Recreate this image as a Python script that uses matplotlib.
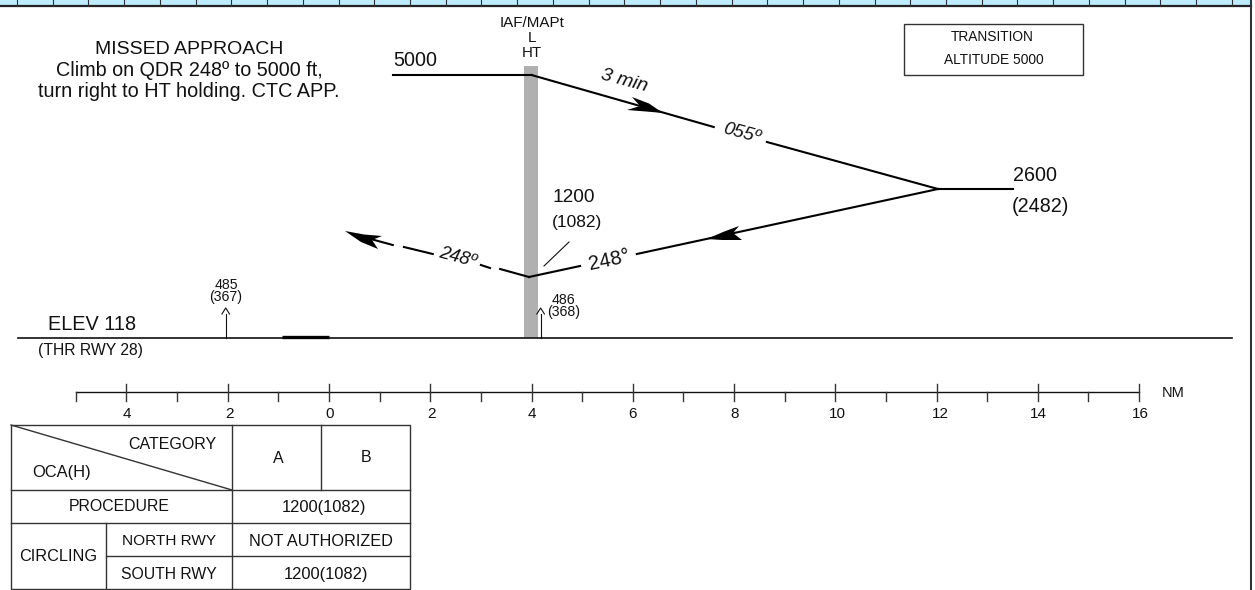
#!/usr/bin/env python3
import matplotlib
matplotlib.use("Agg")
import matplotlib.pyplot as plt
from matplotlib.patches import Polygon, Rectangle

plt.rcParams["font.family"] = ["Liberation Sans", "DejaVu Sans"]

W, H = 1255, 590
INK = "#111111"

# distances in NM from the threshold, heights as rows of the profile drawing
level_5000_x = [1.26, 4.0]
level_5000_y = [75, 75]
outbound_x = [[4.0, 7.6], [8.65, 12.03]]
outbound_y = [[75, 127], [142, 189]]
level_2600_x = [12.03, 13.52]
level_2600_y = [189, 189]
inbound_x = [[12.03, 6.08], [4.96, 3.95]]
inbound_y = [[189, 254], [266, 277]]
missed_x = [[3.95, 3.38], [3.18, 3.0], [2.05, 1.48], [1.26, 0.75]]
missed_y = [[277, 269], [268, 265], [254, 247], [245, 238]]

ground_x = [-6.14, 17.84]
ground_y = 338.3
runway_x = [-0.93, 0.0]
obstacle_x = [-2.04, 4.18]
obstacle_top = [308, 308]

scale_ticks = list(range(-5, 17))
scale_labels = ["4", "2", "0", "2", "4", "6", "8", "10", "12", "14", "16"]
scale_label_nm = [-4.0, -1.97, 0.02, 2.02, 4.0, 6.0, 8.02, 10.04, 12.08, 14.02, 16.02]

band_ticks = [17 + 35.73 * i for i in range(35)]

# table
col_x = [11, 106, 232, 321, 410]
row_y = [425, 490, 523, 556, 589]

fig = plt.figure(figsize=(W / 100, H / 100), dpi=100)
ax = fig.add_axes([0, 0, 1, 1])
ax.set_xlim(0, W)
ax.set_ylim(H, 0)
ax.axis("off")

# same rows, x in NM: 0 NM sits at 329 px, 50.625 px per NM
nm = fig.add_axes([0, 0, 1, 1])
nm.set_xlim(-329 / 50.625, (W - 329) / 50.625)
nm.set_ylim(H, 0)
nm.axis("off")
nm.patch.set_alpha(0)


def label(x, y, s, size, **kw):
    # centre anchor sits a little high for capitals and digits
    kw.setdefault("color", INK)
    return ax.text(x, y + 1, s, ha="center", va="center", fontsize=size, **kw)


# top band and right frame
ax.add_patch(Rectangle((0, 0), 1250, 5.5, fc="#BDEBFF", ec="none"))
ax.plot([0, 1251], [6, 6], color="#222222", lw=1.6)
ax.plot([1250.5, 1250.5], [0, H], color="#333333", lw=1.5)
for x in band_ticks:
    ax.plot([x, x], [0, 5.5], color="#333333", lw=0.8)

# fix bar, ground, runway
nm.add_patch(Rectangle((3.85, 66), 0.277, ground_y - 66, fc="#B0B0B0", ec="none"))
nm.plot(ground_x, [ground_y, ground_y], color=INK, lw=1.2)
nm.plot(runway_x, [336.5, 336.5], color="black", lw=2.4, solid_capstyle="butt")

# procedure track
nm.plot(level_5000_x, level_5000_y, color="black", lw=1.5)
nm.plot(level_2600_x, level_2600_y, color="black", lw=1.5)
for xs, ys in zip(outbound_x + inbound_x + missed_x, outbound_y + inbound_y + missed_y):
    nm.plot(xs, ys, color="black", lw=1.5)

# arrow heads, pixel outline
ax.add_patch(Polygon([(663, 113), (649, 103.5), (632, 97), (640, 106), (627, 110), (646, 111.5)],
                     fc="black", ec="none"))
ax.add_patch(Polygon([(707, 239), (723, 232), (739, 226), (733, 233), (742, 240), (722, 240)],
                     fc="black", ec="none"))
ax.add_patch(Polygon([(345, 231), (364, 234.5), (382, 236), (372, 240), (378, 249), (361, 242)],
                     fc="black", ec="none"))

# obstacles
for x, top in zip(obstacle_x, obstacle_top):
    nm.plot([x, x], [ground_y, top + 6], color=INK, lw=0.8)
    nm.plot([x - 0.075, x, x + 0.075], [top + 6, top, top + 6], color=INK, lw=0.8)
label(226, 290, "485\n(367)", 10.2, linespacing=0.85)
label(563.5, 305, "486\n(368)", 10.2, linespacing=0.85)

# leader to the 1200 label
ax.plot([544, 569], [266, 242], color=INK, lw=0.8)

# distance scale
nm.plot([scale_ticks[0], scale_ticks[-1]], [392, 392], color=INK, lw=1)
for t in scale_ticks:
    top = 384 if (t % 2 == 0) else 392
    nm.plot([t, t], [top, 401], color="#333333", lw=1)
for t, s in zip(scale_label_nm, scale_labels):
    nm.text(t, 413.5, s, ha="center", va="center", fontsize=11, color=INK)
label(1173, 392, "NM", 10.5)

# free text
label(189.5, 48.5, "MISSED APPROACH", 14)
label(189.5, 69.5, "Climb on QDR 248º to 5000 ft,", 14.2)
label(189, 90.5, "turn right to HT holding. CTC APP.", 14.3)
label(532, 22, "IAF/MAPt", 10.9)
label(532, 37, "L", 10.9)
label(532, 52, "HT", 10.9)
label(415.5, 59.5, "5000", 14.2)
label(1035, 174.5, "2600", 14.2)
label(1040, 205, "(2482)", 14.2)
label(573.5, 196.5, "1200", 13.7)
label(577, 221, "(1082)", 12.5)
label(92, 324, "ELEV 118", 14.3)
label(90.5, 350, "(THR RWY 28)", 11.3)

# rotated track labels
label(624, 80, "3 min", 14, style="italic", rotation=-15)
label(742, 133, "055º", 13.5, style="italic", rotation=-15)
label(458, 257, "248º", 13.5, style="italic", rotation=-15)
label(609, 259, "248°", 14.5, rotation=12)

# transition box
ax.add_patch(Rectangle((904, 23.5), 179, 51.5, fc="none", ec="#333333", lw=1))
label(992.5, 36, "TRANSITION", 9.9)
label(993.5, 58.5, "ALTITUDE 5000", 9.9)

# minima table
tc = "#333333"
ax.add_patch(Rectangle((col_x[0], row_y[0]), col_x[4] - col_x[0], row_y[4] - row_y[0], fc="none", ec=tc, lw=1))
ax.plot([col_x[2], col_x[2]], [row_y[0], row_y[4]], color=tc, lw=1)
ax.plot([col_x[3], col_x[3]], [row_y[0], row_y[1]], color=tc, lw=1)
ax.plot([col_x[1], col_x[1]], [row_y[2], row_y[4]], color=tc, lw=1)
ax.plot([col_x[0], col_x[4]], [row_y[1], row_y[1]], color=tc, lw=1)
ax.plot([col_x[0], col_x[4]], [row_y[2], row_y[2]], color=tc, lw=1)
ax.plot([col_x[1], col_x[4]], [row_y[3], row_y[3]], color=tc, lw=1)
ax.plot([col_x[0], col_x[2]], [row_y[0], row_y[1]], color=tc, lw=1)

label(172, 443.5, "CATEGORY", 11.5)
label(62, 472, "OCA(H)", 11.9)
label(278, 457.5, "A", 11.5)
label(366, 457, "B", 11.5)
label(119.5, 505.5, "PROCEDURE", 11.4)
label(324, 506.5, "1200(1082)", 11.9)
label(58.5, 555.5, "CIRCLING", 11.7)
label(169.5, 540, "NORTH RWY", 11.1)
label(169, 573.5, "SOUTH RWY", 11.3)
label(321, 540, "NOT AUTHORIZED", 11.7)
label(326, 573.5, "1200(1082)", 11.9)

fig.savefig("out.png", dpi=100)
